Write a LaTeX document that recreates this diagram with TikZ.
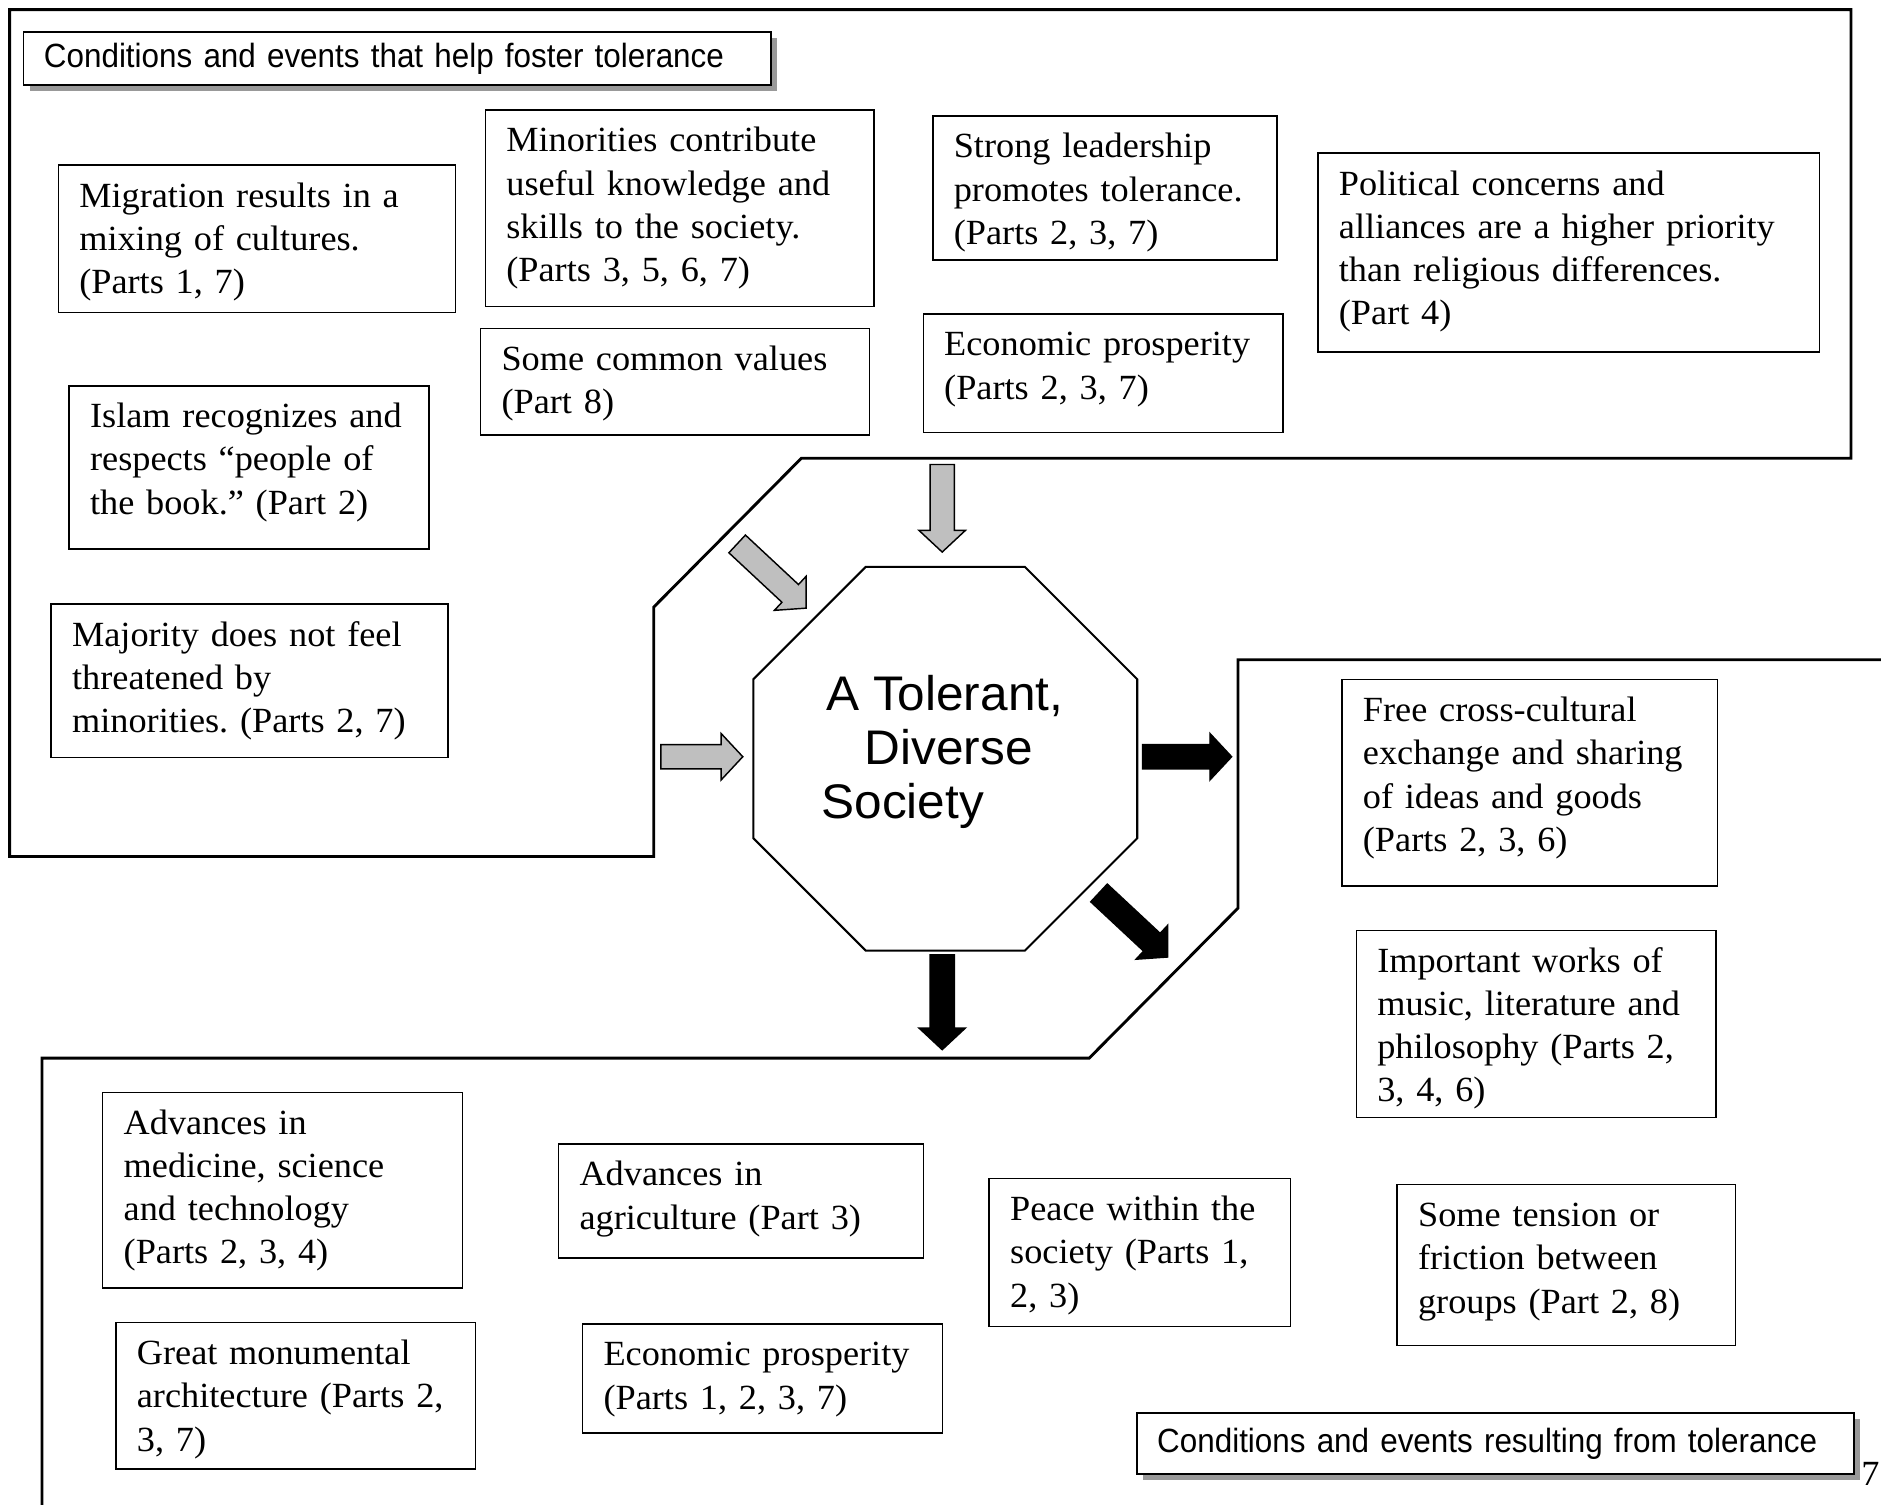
\documentclass[tikz,border=0pt]{standalone}
\usepackage{fontspec}
\setmainfont[FakeStretch=1.025]{Liberation Serif}
\newfontfamily\headfont[FakeStretch=0.935]{Liberation Sans}
\newfontfamily\centrefont[FakeStretch=1.02]{Liberation Sans}
\usetikzlibrary{shapes.geometric, shapes.arrows, shadows}
\frenchspacing

\begin{document}
\begin{tikzpicture}[x=1pt, y=-1pt,
    region/.style={line width=2.4pt},
    txtbox/.style={draw, fill=white, line width=1.2pt, anchor=north west, align=left,
        inner xsep=17.5pt, inner ysep=0pt, text height=35pt, font=\fontsize{29.5}{36}\selectfont},
    headbox/.style={draw, fill=white, line width=1.3pt, anchor=north west, align=left,
        inner xsep=17pt, inner ysep=0pt, font=\headfont\fontsize{28}{32}\selectfont,
        drop shadow={shadow xshift=5pt, shadow yshift=-5pt, fill=black!40, opacity=1}},
    inarrow/.style={single arrow, draw, fill=gray!50, line width=1.2pt, inner xsep=0pt,
        inner ysep=9.5pt, single arrow head extend=9.25pt, single arrow tip angle=94, anchor=tip},
    outarrow/.style={inarrow, fill=black}]
    \useasboundingbox (0,0) rectangle (1568,1254);

    % the two regions
    \draw[region] (8,8) -- (1543,8) -- (1543,382) -- (668,382) -- (545,506) -- (545,714) -- (8,714) -- cycle;
    \draw[region] (1600,550) -- (1032,550) -- (1032,757) -- (908,882) -- (35,882) -- (35,1290);

    % causes
    \node[headbox, text width=589pt, minimum height=44pt] (fostertitle) at (19,26) {Conditions and events that help foster tolerance};
    \node[txtbox, text width=296pt, text depth=88pt] (migration) at (48,137) {Migration results in a\\mixing of cultures.\\(Parts 1, 7)};
    \node[txtbox, text width=289pt, text depth=129pt] (minorities) at (404,91) {Minorities contribute\\useful knowledge and\\skills to the society.\\(Parts 3, 5, 6, 7)};
    \node[txtbox, text width=252pt, text depth=85pt] (leadership) at (777,96) {Strong leadership\\promotes tolerance.\\(Parts 2, 3, 7)};
    \node[txtbox, text width=383pt, text depth=131pt] (politics) at (1098,127) {Political concerns and\\alliances are a higher priority\\than religious differences.\\(Part 4)};
    \node[txtbox, text width=289pt, text depth=54pt] (values) at (400,273) {Some common values\\(Part 8)};
    \node[txtbox, text width=265pt, text depth=64pt] (prosperin) at (769,261) {Economic prosperity\\(Parts 2, 3, 7)};
    \node[txtbox, text width=265pt, text depth=101pt] (islam) at (57,321) {Islam recognizes and\\respects “people of\\the book.” (Part 2)};
    \node[txtbox, text width=296pt, text depth=93pt] (majority) at (42,503) {Majority does not feel\\threatened by\\minorities. (Parts 2, 7)};

    % centre
    \node[regular polygon, regular polygon sides=8, minimum size=346.4pt, draw, line width=1.7pt, inner sep=0pt] (society) at (788,632.5) {};
    \node[font=\centrefont\fontsize{40.5}{45}\selectfont, align=left] (societylabel) at (785.5,627) {\hspace*{4pt}A Tolerant,\\\hspace*{36pt}Diverse\\Society};

    \node[inarrow, minimum height=73pt, rotate=-90] (intop) at (785.4,461) {};
    \node[inarrow, minimum height=78.5pt, rotate=-43] (indiag) at (672.5,507.5) {};
    \node[inarrow, minimum height=68.3pt] (inleft) at (620,630.8) {};
    \node[outarrow, minimum height=74.2pt] (outright) at (1027.5,630.8) {};
    \node[outarrow, minimum height=78.3pt, rotate=-43] (outdiag) at (974,798.3) {};
    \node[outarrow, minimum height=79pt, rotate=-90] (outdown) at (785.4,875.8) {};

    % results
    \node[txtbox, text width=278pt, text depth=137pt] (exchange) at (1118,566) {Free cross-cultural\\exchange and sharing\\of ideas and goods\\(Parts 2, 3, 6)};
    \node[txtbox, text width=265pt, text depth=121pt] (works) at (1130,775) {Important works of\\music, literature and\\philosophy (Parts 2,\\3, 4, 6)};
    \node[txtbox, text width=265pt, text depth=128pt] (science) at (85,910) {Advances in\\medicine, science\\and technology\\(Parts 2, 3, 4)};
    \node[txtbox, text width=269pt, text depth=60pt] (farming) at (465,953) {Advances in\\agriculture (Part 3)};
    \node[txtbox, text width=216pt, text depth=88pt] (peace) at (824,982) {Peace within the\\society (Parts 1,\\2, 3)};
    \node[txtbox, text width=247pt, text depth=99pt] (tension) at (1164,987) {Some tension or\\friction between\\groups (Part 2, 8)};
    \node[txtbox, text width=265pt, text depth=87pt] (monuments) at (96,1102) {Great monumental\\architecture (Parts 2,\\3, 7)};
    \node[txtbox, text width=265pt, text depth=56pt] (prosperout) at (485,1103) {Economic prosperity\\(Parts 1, 2, 3, 7)};
    \node[headbox, text width=564pt, minimum height=51pt] (resulttitle) at (947,1177) {Conditions and events resulting from tolerance};

    \node[font=\fontsize{29.5}{36}\selectfont, anchor=east, inner sep=0pt] (pagenum) at (1567,1229) {7};
\end{tikzpicture}
\end{document}
